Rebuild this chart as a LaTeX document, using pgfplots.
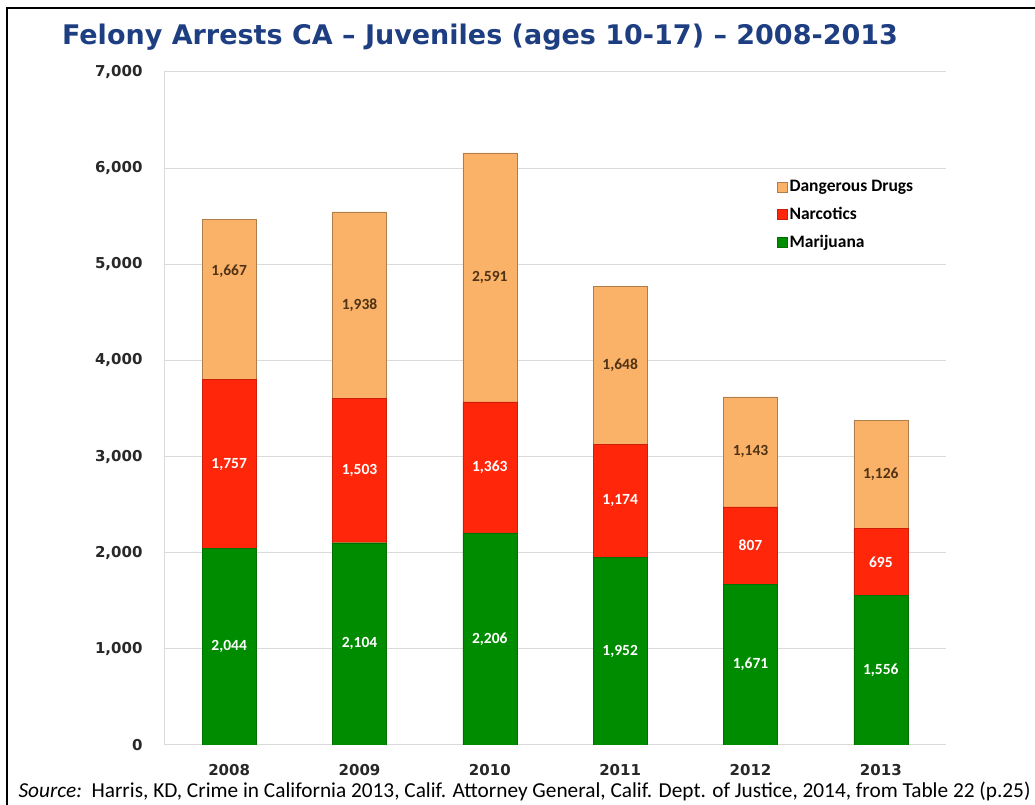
\documentclass[border=0pt]{standalone}
\usepackage{pgfplots}
\pgfplotsset{compat=1.18}
\usepackage{pgfplotstable}
\usepackage{fontspec}
\setmainfont{Carlito}
\newfontfamily\titlefont{DejaVu Sans}
\newfontfamily\tickfont{DejaVu Sans}

\definecolor{titleblue}{RGB}{30,62,130}
\definecolor{dangerous}{RGB}{250,178,104}
\definecolor{narcotics}{RGB}{255,38,10}
\definecolor{marijuana}{RGB}{0,140,0}
\definecolor{gridgray}{RGB}{218,218,218}
\definecolor{labelbrown}{RGB}{80,50,20}
\definecolor{tickgray}{RGB}{40,40,40}

% felony arrests by year
\pgfplotstableread{
x  mar   nar   dan
0  2044  1757  1667
1  2104  1503  1938
2  2206  1363  2591
3  1952  1174  1648
4  1671  807   1143
5  1556  695   1126
}\counts

% where the value labels sit (middle of each segment)
\pgfplotstableread{
x  ym     m     yn      n     yd      d
0  1022   2044  2922.5  1757  4930    1667
1  1052   2104  2855.5  1503  4576    1938
2  1103   2206  2887.5  1363  4864.5  2591
3  976    1952  2539    1174  3950    1648
4  835.5  1671  2074.5  807   3049.5  1143
5  778    1556  1903.5  695   2814    1126
}\labels

\begin{document}
\begin{tikzpicture}[x=1pt,y=1pt]
\useasboundingbox (0,0) rectangle (1035,805);
\draw[line width=2.5pt] (7,-5) -- (7,797) -- (1045,797);

\node[font=\titlefont\fontsize{27}{27}\selectfont\bfseries, text=titleblue] at (480,768)
  {Felony Arrests CA – Juveniles (ages 10-17) – 2008-2013};

\begin{axis}[
  at={(164pt,60pt)}, anchor=south west,
  scale only axis, width=782pt, height=673pt,
  ybar stacked, bar width=54pt,
  xmin=-0.5, xmax=5.5, ymin=0, ymax=7000,
  enlargelimits=false,
  xtick={0,...,5}, xticklabels={2008,2009,2010,2011,2012,2013},
  ytick={0,1000,...,7000},
  ymajorgrids, grid style={gridgray, line width=1pt},
  axis x line*=bottom, axis y line*=left,
  axis line style={gridgray, line width=1pt},
  major tick length=0pt,
  tick label style={font=\tickfont\fontsize{15}{15}\selectfont\bfseries, text=tickgray},
  /pgf/number format/1000 sep={,},
  /pgf/number format/assume math mode=true,
  yticklabel style={xshift=-18pt},
  xticklabel style={yshift=-16pt},
  reverse legend,
  legend style={at={(0.78,0.845)}, anchor=north west, draw=none, fill=none,
    font=\fontsize{17.5}{17.5}\selectfont\bfseries, row sep=10pt,
    legend cell align=left},
  legend image code/.code={\fill[#1] (0pt,-5pt) rectangle (10pt,5pt);},
]
\addplot[fill=marijuana, draw=marijuana!80!black] table[x=x, y=mar] {\counts};
\addplot[fill=narcotics, draw=narcotics!80!black] table[x=x, y=nar] {\counts};
\addplot[fill=dangerous, draw=dangerous!70!black] table[x=x, y=dan] {\counts};
\legend{Marijuana, Narcotics, Dangerous Drugs}
\end{axis}

\begin{axis}[
  at={(164pt,60pt)}, anchor=south west,
  scale only axis, width=782pt, height=673pt,
  xmin=-0.5, xmax=5.5, ymin=0, ymax=7000,
  hide axis,
  /pgf/number format/1000 sep={,},
  /pgf/number format/assume math mode=true,
  nodes near coords, point meta=explicit,
  every node near coord/.style={anchor=center, font=\fontsize{15.5}{15.5}\selectfont\bfseries},
]
\addplot[draw=none, mark=none, nodes near coords style={text=white}] table[x=x, y=ym, meta=m] {\labels};
\addplot[draw=none, mark=none, nodes near coords style={text=white}] table[x=x, y=yn, meta=n] {\labels};
\addplot[draw=none, mark=none, nodes near coords style={text=labelbrown}] table[x=x, y=yd, meta=d] {\labels};
\end{axis}

\node[anchor=west, font=\fontsize{21.3}{21.3}\selectfont] at (15,14)
  {\textit{Source:}\ \ Harris, KD, Crime in California 2013, Calif. Attorney General, Calif. Dept. of Justice, 2014, from Table 22 (p.25)};
\end{tikzpicture}
\end{document}
